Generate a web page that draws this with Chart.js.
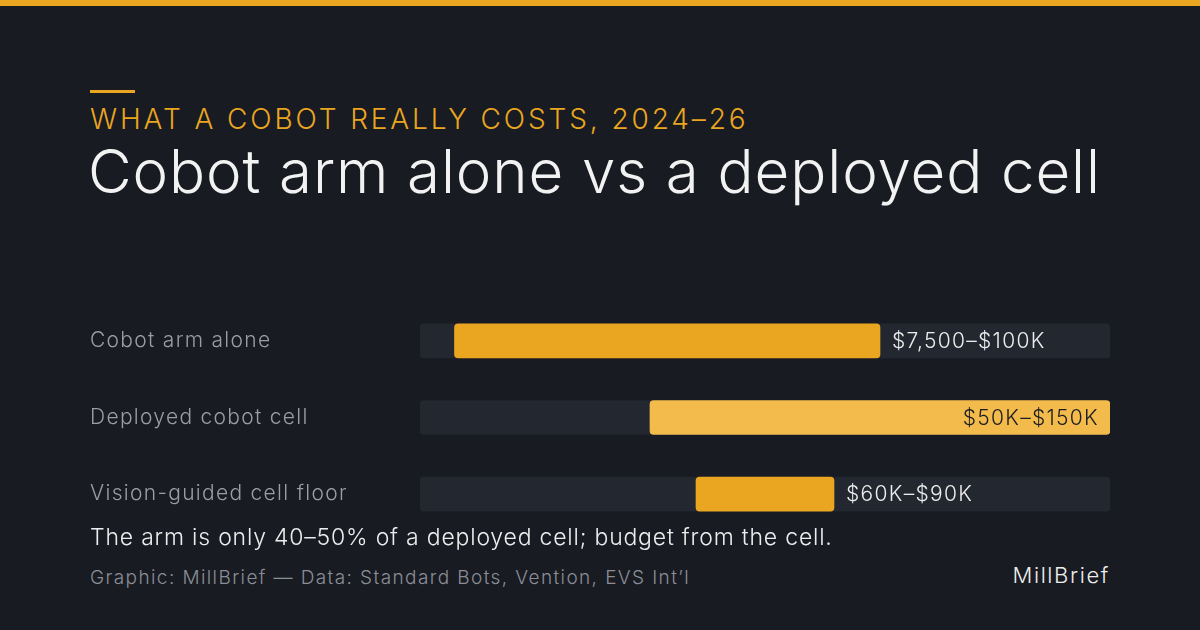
<!DOCTYPE html>
<html>
<head>
<meta charset="utf-8">
<script src="https://cdn.jsdelivr.net/npm/chart.js@4.4.1/dist/chart.umd.min.js"></script>
<style>
  html, body { margin: 0; padding: 0; }
  body {
    width: 1200px; height: 630px; overflow: hidden; position: relative;
    background: #181b22; font-family: 'Inter', 'Roboto', sans-serif;
  }
  .topbar { position: absolute; left: 0; top: 0; width: 1200px; height: 6px; background: #eaa620; }
  .accent { position: absolute; left: 90px; top: 90px; width: 45px; height: 3px; background: #eaa620; }
  .eyebrow {
    position: absolute; left: 90px; top: 102px; color: #eaa620;
    font-size: 28px; font-weight: 300; letter-spacing: 2.9px; white-space: nowrap;
  }
  .title {
    position: absolute; left: 88px; top: 135px; color: #f2f2f2;
    font-size: 60px; font-weight: 300; letter-spacing: 0.9px; white-space: nowrap;
  }
  .chart-wrap { position: absolute; left: 90px; top: 290px; width: 1020px; height: 255px; }
  .note { position: absolute; left: 90px; top: 523px; color: #ededed; font-size: 23px; font-weight: 300; letter-spacing: 0.8px; white-space: nowrap; }
  .source { position: absolute; left: 90px; top: 566px; color: #8b8e96; font-size: 19px; font-weight: 300; letter-spacing: 1.4px; white-space: nowrap; }
  .brand { position: absolute; right: 90px; top: 562px; color: #ededed; font-size: 22px; font-weight: 300; letter-spacing: 1.6px; white-space: nowrap; }
</style>
</head>
<body>
<div class="topbar"></div>
<div class="accent"></div>
<div class="eyebrow">WHAT A COBOT REALLY COSTS, 2024–26</div>
<div class="title">Cobot arm alone vs a deployed cell</div>
<div class="chart-wrap"><canvas id="costChart"></canvas></div>
<div class="note">The arm is only 40–50% of a deployed cell; budget from the cell.</div>
<div class="source">Graphic: MillBrief — Data: Standard Bots, Vention, EVS Int’l</div>
<div class="brand">MillBrief</div>

<script>
const categories = ['Cobot arm alone', 'Deployed cobot cell', 'Vision-guided cell floor'];
const lowValues = [7500, 50000, 60000];
const highValues = [100000, 150000, 90000];
const rangeLabels = ['$7,500–$100K', '$50K–$150K', '$60K–$90K'];
const axisMax = 150000;

const barColors = ['#eaa620', '#f2bb4b', '#eaa620'];

// wider tracking for the category ticks (the reference face is wider than Inter)
const trackingPlugin = {
    id: 'tracking',
    beforeDraw(chart) { chart.ctx.letterSpacing = '1.3px'; }
};

// value labels: outside the bar, or inside when the bar reaches the end of the track
const rangeLabelPlugin = {
    id: 'rangeLabels',
    afterDatasetsDraw(chart) {
        const ctx = chart.ctx;
        const x = chart.scales.x;
        const meta = chart.getDatasetMeta(0);
        ctx.save();
        ctx.font = '300 21px Inter, Roboto, sans-serif';
        ctx.letterSpacing = '1.3px';
        ctx.textBaseline = 'middle';
        meta.data.forEach((bar, i) => {
            const endPx = x.getPixelForValue(highValues[i]);
            if (highValues[i] >= axisMax) {
                ctx.fillStyle = '#1c1d22';
                ctx.textAlign = 'right';
                ctx.fillText(rangeLabels[i], endPx - 11, bar.y + 1);
            } else {
                ctx.fillStyle = '#ececec';
                ctx.textAlign = 'left';
                ctx.fillText(rangeLabels[i], endPx + 12, bar.y + 1);
            }
        });
        ctx.restore();
    }
};

new Chart(document.getElementById('costChart'), {
    type: 'bar',
    data: {
        labels: categories,
        datasets: [
            {
                label: 'Range',
                data: categories.map((c, i) => [lowValues[i], highValues[i]]),
                backgroundColor: barColors,
                borderRadius: 4,
                borderSkipped: false,
                barThickness: 34,
                grouped: false
            },
            {
                label: 'Track',
                data: categories.map(() => [0, axisMax]),
                backgroundColor: '#232730',
                borderRadius: 4,
                borderSkipped: false,
                barThickness: 34,
                grouped: false
            }
        ]
    },
    options: {
        indexAxis: 'y',
        responsive: true,
        maintainAspectRatio: false,
        animation: false,
        layout: { padding: 0 },
        plugins: {
            legend: { display: false },
            tooltip: { enabled: false }
        },
        scales: {
            x: {
                display: false,
                min: 0,
                max: axisMax
            },
            y: {
                grid: { display: false },
                border: { display: false },
                ticks: {
                    color: '#9a9da5',
                    crossAlign: 'far',
                    padding: 0,
                    font: { family: 'Inter, Roboto, sans-serif', size: 21, weight: '300' }
                },
                afterFit(axis) { axis.width = 330; }
            }
        }
    },
    plugins: [trackingPlugin, rangeLabelPlugin]
});
</script>
</body>
</html>
